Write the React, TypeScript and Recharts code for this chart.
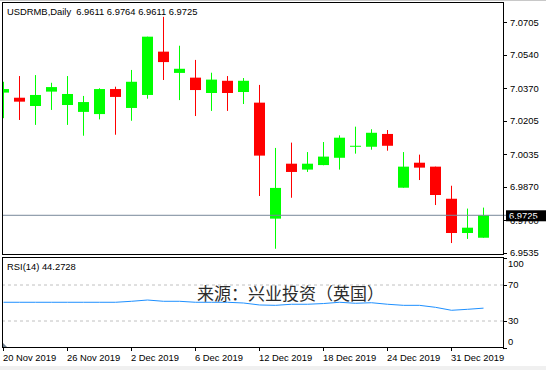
import React from "react";
import { Bar, ComposedChart, Line, ReferenceLine, XAxis, YAxis } from "recharts";

// daily candles, USD/RMB
const dates = [
  "20 Nov 2019", "21 Nov 2019", "22 Nov 2019", "25 Nov 2019", "26 Nov 2019", "27 Nov 2019",
  "28 Nov 2019", "29 Nov 2019", "2 Dec 2019", "3 Dec 2019", "4 Dec 2019", "5 Dec 2019",
  "6 Dec 2019", "9 Dec 2019", "10 Dec 2019", "11 Dec 2019", "12 Dec 2019", "13 Dec 2019",
  "16 Dec 2019", "17 Dec 2019", "18 Dec 2019", "19 Dec 2019", "20 Dec 2019", "23 Dec 2019",
  "24 Dec 2019", "26 Dec 2019", "27 Dec 2019", "30 Dec 2019", "31 Dec 2019", "2 Jan 2020",
  "3 Jan 2020",
];
const opens = [
  7.0348, 7.0322, 7.028, 7.0353, 7.0285, 7.025, 7.0239, 7.0366, 7.027, 7.0336, 7.0556,
  7.0448, 7.0424, 7.0346, 7.0408, 7.0351, 7.0297, 6.9708, 6.9987, 6.9957, 6.998, 7.0017,
  7.0076, 7.0073, 7.0138, 6.9865, 6.9992, 6.9972, 6.9809, 6.9635, 6.9611,
];
const highs = [
  7.0403, 7.0432, 7.0437, 7.0398, 7.0432, 7.0331, 7.037, 7.0378, 7.0463, 7.0632, 7.0733,
  7.0586, 7.0514, 7.0449, 7.0432, 7.0422, 7.0387, 7.0067, 7.0094, 7.0046, 7.0097, 7.0131,
  7.0175, 7.0162, 7.0158, 7.0046, 7.0033, 6.9972, 6.9875, 6.9759, 6.9764,
];
const lows = [
  7.0218, 7.0209, 7.0184, 7.026, 7.0184, 7.0129, 7.0212, 7.0134, 7.0205, 7.0317, 7.0412,
  7.031, 7.0229, 7.0255, 7.0255, 7.029, 6.9823, 6.9555, 6.9814, 6.9945, 6.9979, 6.9957,
  7.0038, 7.0058, 7.0053, 6.9865, 6.9904, 6.9777, 6.9584, 6.9605, 6.9611,
];
const closes = [
  7.0366, 7.0302, 7.0336, 7.0376, 7.0341, 7.03, 7.0366, 7.0326, 7.0403, 7.0632, 7.0503,
  7.0469, 7.0361, 7.0414, 7.0346, 7.0408, 7.0028, 6.9864, 6.9945, 6.9987, 7.0023, 7.0119,
  7.0078, 7.0144, 7.0078, 6.9972, 6.9967, 6.9828, 6.9635, 6.9662, 6.9725,
];
const rsiValues = [
  50.8, 50.8, 50.8, 50.8, 50.8, 50.8, 50.8, 50.8, 51.9, 53.3, 51.9, 51.9, 50.8, 50.8, 50.8,
  50.0, 47.8, 47.4, 48.6, 48.6, 49.4, 50.8, 49.7, 50.3, 48.6, 47.4, 47.4, 45.2, 41.9, 43.0,
  44.2728,
];
const priceTicks = [7.0705, 7.054, 7.037, 7.0205, 7.0035, 6.987, 6.97, 6.9535];
const rsiTicks = [100, 70, 30, 0];
const rsiLevels = [70, 30];
const dateTicks = [0, 4, 8, 12, 16, 20, 24, 28];
const lastPrice = 6.9725;

const candles = dates.map((d, i) => ({
  i,
  date: d,
  open: opens[i],
  high: highs[i],
  low: lows[i],
  close: closes[i],
  range: [lows[i], highs[i]],
}));
const rsiData = rsiValues.map((v, i) => ({ i, rsi: v }));

const FONT = "'Liberation Sans', Arial, sans-serif";
const FS = 9.4;
const X_DOMAIN: [number, number] = [-0.03125, 31.21875];

const Candle = (props: any) => {
  const { x, y, width, height, payload } = props;
  const { open, close, high, low } = payload;
  const color = close >= open ? "#00ff00" : "#ff0000";
  const k = height / (high - low);
  const yo = y + (high - open) * k;
  const yc = y + (high - close) * k;
  const top = Math.min(yo, yc);
  const bh = Math.max(Math.abs(yo - yc), 1);
  const cx = Math.round(x + width / 2 - 0.5) + 0.5;
  return (
    <g>
      <line x1={cx} x2={cx} y1={y} y2={y + height} stroke={color} strokeWidth={1} />
      <rect x={cx - 5.5} y={top} width={11} height={bh} fill={color} />
    </g>
  );
};

const PriceTick = (props: any) => {
  const { x, y, payload } = props;
  const ly = Math.round(y) + 0.5;
  return (
    <g>
      <line x1={x} x2={x + 4} y1={ly} y2={ly} stroke="#000" />
      <text x={x + 7} y={y} dy={3.4} fontSize={FS} fontFamily={FONT} fill="#000">
        {payload.value.toFixed(4)}
      </text>
    </g>
  );
};

const RsiTick = (props: any) => {
  const { x, y, payload } = props;
  const ly = Math.round(y) + 0.5;
  const ty = Math.min(Math.max(y, 14), 91.5);
  return (
    <g>
      <line x1={x} x2={x + 4} y1={ly} y2={ly} stroke="#000" />
      <text x={x + 5} y={ty} dy={3.4} fontSize={FS} fontFamily={FONT} fill="#000">
        {payload.value}
      </text>
    </g>
  );
};

const DateTick = (props: any) => {
  const { x, y, payload } = props;
  const lx = Math.round(x - 0.5) + 0.5;
  return (
    <g>
      <line x1={lx} x2={lx} y1={y} y2={y + 3} stroke="#000" />
      <text x={x - 0.5} y={y + 13} fontSize={FS} fontFamily={FONT} fill="#000">
        {dates[payload.value]}
      </text>
    </g>
  );
};

const LastPriceLabel = (props: any) => {
  const { viewBox } = props;
  const right = viewBox.x + viewBox.width;
  const y = viewBox.y;
  return (
    <g>
      <line x1={right} x2={right + 4} y1={y} y2={y} stroke="#778899" />
      <rect x={right + 3} y={y - 5} width={43} height={11} fill="#000" />
      <text x={right + 6} y={y} dy={3.4} fontSize={FS} fontFamily={FONT} fill="#fff">
        {lastPrice.toFixed(4)}
      </text>
    </g>
  );
};

export default function App() {
  return (
    <div
      style={{
        position: "absolute",
        left: 0,
        top: 0,
        width: 546,
        height: 370,
        background: "#fff",
        overflow: "hidden",
      }}
    >
      <div style={{ position: "absolute", left: 0, top: 0 }}>
        <ComposedChart width={546} height={258} data={candles} margin={{ top: 3, right: 0, bottom: 4, left: 3 }}>
          <XAxis type="number" dataKey="i" domain={X_DOMAIN} allowDataOverflow hide />
          <YAxis
            orientation="right"
            width={43}
            domain={[6.95284, 7.0803]}
            allowDataOverflow
            ticks={priceTicks}
            interval={0}
            axisLine={false}
            tickLine={false}
            tickSize={0}
            tickMargin={0}
            tick={<PriceTick />}
          />
          <ReferenceLine y={lastPrice} stroke="#778899" label={<LastPriceLabel />} />
          <Bar dataKey="range" barSize={11} shape={<Candle />} isAnimationActive={false} />
        </ComposedChart>
      </div>

      <div style={{ position: "absolute", left: 0, top: 250 }}>
        <ComposedChart width={546} height={120} data={rsiData} margin={{ top: 8, right: 0, bottom: 0, left: 3 }}>
          <XAxis
            type="number"
            dataKey="i"
            domain={X_DOMAIN}
            allowDataOverflow
            ticks={dateTicks}
            interval={0}
            height={22}
            axisLine={false}
            tickLine={false}
            tickSize={0}
            tickMargin={0}
            tick={<DateTick />}
          />
          <YAxis
            orientation="right"
            width={43}
            domain={[0, 100]}
            allowDataOverflow
            ticks={rsiTicks}
            interval={0}
            axisLine={false}
            tickLine={false}
            tickSize={0}
            tickMargin={0}
            tick={<RsiTick />}
          />
          {rsiLevels.map((lv) => (
            <ReferenceLine key={lv} y={lv} stroke="#c0c0c0" strokeDasharray="3 3" />
          ))}
          <Line
            type="linear"
            dataKey="rsi"
            stroke="#1e90ff"
            strokeWidth={1}
            dot={false}
            isAnimationActive={false}
          />
        </ComposedChart>
      </div>

      <svg
        width={546}
        height={370}
        style={{ position: "absolute", left: 0, top: 0, pointerEvents: "none" }}
      >
        <rect x={0} y={0} width={546} height={1} fill="#c8c8c8" />
        <rect x={0} y={366} width={546} height={4} fill="#f0f0f0" />
        <rect x={2.5} y={2.5} width={501} height={252} fill="none" stroke="#000" />
        <rect x={2.5} y={257.5} width={501} height={90} fill="none" stroke="#000" />
        <polygon points="3,347 3,343 7,347" fill="#708090" />
        <text x={7} y={15.4} fontSize={FS} fontFamily={FONT} fill="#000" style={{ whiteSpace: "pre" }}>
          {"USDRMB,Daily  6.9611 6.9764 6.9611 6.9725"}
        </text>
        <text x={7} y={269.5} fontSize={FS} fontFamily={FONT} fill="#000">
          RSI(14) 44.2728
        </text>
        <text x={197} y={299.5} fontSize={17} fontFamily="'Noto Sans CJK SC', sans-serif" fill="#2b2b2b">
          来源：兴业投资（英国）
        </text>
      </svg>
    </div>
  );
}
